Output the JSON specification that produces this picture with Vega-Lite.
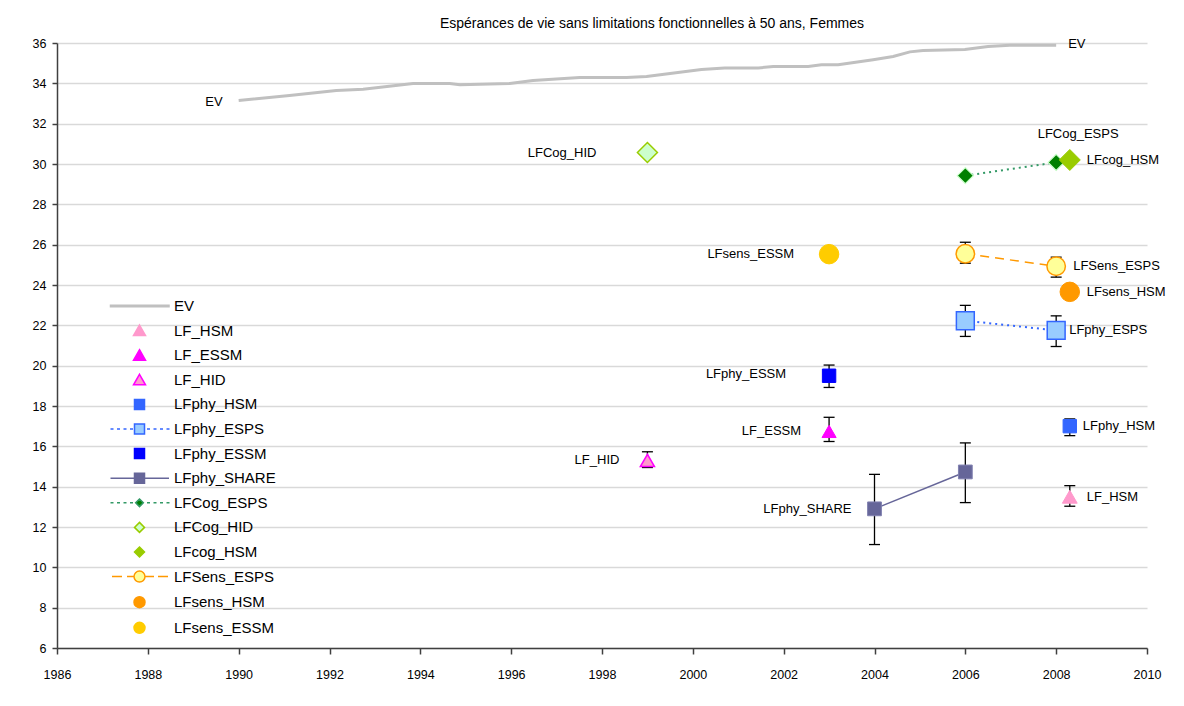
{
  "$schema": "https://vega.github.io/schema/vega-lite/v6.json",
  "width": 1090,
  "height": 605,
  "autosize": {"type": "none"},
  "padding": {"left": 57, "top": 43, "right": 37, "bottom": 58},
  "background": "white",
  "title": {"text": "Espérances de vie sans limitations fonctionnelles à 50 ans, Femmes", "font": "Liberation Sans", "fontSize": 14, "fontWeight": "normal", "color": "#000000", "dx": 50, "offset": 6},
  "config": {
    "font": "Liberation Sans",
    "view": {"stroke": null},
    "axis": {"domainColor": "#404040", "domainWidth": 1.5, "tickColor": "#404040", "tickWidth": 1.5, "labelFont": "Liberation Sans", "labelFontSize": 12.5, "labelColor": "#000000", "title": null, "labelFlush": false},
    "legend": {"symbolSize": 400, "symbolStrokeWidth": 1.5, "symbolFillColor": "#ffffff", "labelFont": "Liberation Sans", "labelFontSize": 15, "labelColor": "#000000", "labelOffset": 23.5, "rowPadding": 5.6, "padding": 0, "symbolOffset": 0, "labelLimit": 300}
  },
  "datasets": {
    "ev": [
      {"year": 1990, "value": 33.15},
      {"year": 1991.12, "value": 33.40},
      {"year": 1992.15, "value": 33.65},
      {"year": 1992.74, "value": 33.71},
      {"year": 1993.84, "value": 33.99},
      {"year": 1994.65, "value": 33.99},
      {"year": 1994.87, "value": 33.93},
      {"year": 1995.97, "value": 33.99},
      {"year": 1996.48, "value": 34.14},
      {"year": 1997.51, "value": 34.29},
      {"year": 1998.54, "value": 34.29},
      {"year": 1998.98, "value": 34.34},
      {"year": 2000.19, "value": 34.69},
      {"year": 2000.7, "value": 34.76},
      {"year": 2001.44, "value": 34.76},
      {"year": 2001.77, "value": 34.84},
      {"year": 2002.54, "value": 34.84},
      {"year": 2002.83, "value": 34.92},
      {"year": 2003.2, "value": 34.92},
      {"year": 2003.97, "value": 35.17},
      {"year": 2004.41, "value": 35.33},
      {"year": 2004.78, "value": 35.56},
      {"year": 2005.07, "value": 35.63},
      {"year": 2005.99, "value": 35.68},
      {"year": 2006.5, "value": 35.83},
      {"year": 2006.98, "value": 35.89},
      {"year": 2008, "value": 35.89}
    ],
    "pts": [
      {"series": "LF_HSM", "year": 2008.3, "value": 13.5, "lo": 13.03, "hi": 14.05},
      {"series": "LF_ESSM", "year": 2003, "value": 16.74, "lo": 16.24, "hi": 17.44},
      {"series": "LF_HID", "year": 1999, "value": 15.3, "lo": 14.95, "hi": 15.73},
      {"series": "LFphy_HSM", "year": 2008.3, "value": 17.0, "lo": 16.53, "hi": 17.36},
      {"series": "LFphy_ESPS", "year": 2006, "value": 22.23, "lo": 21.45, "hi": 22.99},
      {"series": "LFphy_ESPS", "year": 2008, "value": 21.75, "lo": 20.95, "hi": 22.47},
      {"series": "LFphy_ESSM", "year": 2003, "value": 19.5, "lo": 18.92, "hi": 20.03},
      {"series": "LFphy_SHARE", "year": 2004, "value": 12.9, "lo": 11.13, "hi": 14.61},
      {"series": "LFphy_SHARE", "year": 2006, "value": 14.73, "lo": 13.21, "hi": 16.17},
      {"series": "LFCog_ESPS", "year": 2006, "value": 29.42, "lo": null, "hi": null},
      {"series": "LFCog_ESPS", "year": 2008, "value": 30.08, "lo": null, "hi": null},
      {"series": "LFCog_HID", "year": 1999, "value": 30.57, "lo": null, "hi": null},
      {"series": "LFcog_HSM", "year": 2008.3, "value": 30.2, "lo": null, "hi": null},
      {"series": "LFSens_ESPS", "year": 2006, "value": 25.55, "lo": 25.08, "hi": 26.12},
      {"series": "LFSens_ESPS", "year": 2008, "value": 24.93, "lo": 24.39, "hi": 25.38},
      {"series": "LFsens_HSM", "year": 2008.3, "value": 23.66, "lo": null, "hi": null},
      {"series": "LFsens_ESSM", "year": 2003, "value": 25.53, "lo": 25.3, "hi": 25.75}
    ]
  },
  "layer": [
    {
      "data": {"name": "ev"},
      "mark": {"type": "line", "color": "#c0c0c0", "strokeWidth": 3},
      "encoding": {
        "x": {"field": "year", "type": "quantitative", "scale": {"domain": [1986, 2010], "nice": false, "zero": false},
              "axis": {"values": [1986, 1988, 1990, 1992, 1994, 1996, 1998, 2000, 2002, 2004, 2006, 2008, 2010], "format": "d", "grid": false, "tickSize": 6, "labelPadding": 14, "labelOverlap": false}},
        "y": {"field": "value", "type": "quantitative", "scale": {"domain": [6, 36], "nice": false, "zero": false},
              "axis": {"values": [6, 8, 10, 12, 14, 16, 18, 20, 22, 24, 26, 28, 30, 32, 34, 36], "grid": true, "gridColor": "#d9d9d9", "gridWidth": 1.5, "tickSize": 5, "labelPadding": 6, "labelOverlap": false}}
      }
    },
    {
      "data": {"name": "pts"},
      "transform": [{"filter": "datum.series === 'LFphy_ESPS'"}],
      "mark": {"type": "line", "color": "#3366ff", "strokeWidth": 2, "strokeDash": [2, 4]},
      "encoding": {"x": {"field": "year", "type": "quantitative"}, "y": {"field": "value", "type": "quantitative"}}
    },
    {
      "data": {"name": "pts"},
      "transform": [{"filter": "datum.series === 'LFCog_ESPS'"}],
      "mark": {"type": "line", "color": "#339966", "strokeWidth": 2, "strokeDash": [2, 4]},
      "encoding": {"x": {"field": "year", "type": "quantitative"}, "y": {"field": "value", "type": "quantitative"}}
    },
    {
      "data": {"name": "pts"},
      "transform": [{"filter": "datum.series === 'LFSens_ESPS'"}],
      "mark": {"type": "line", "color": "#ff9900", "strokeWidth": 1.5, "strokeDash": [9, 6]},
      "encoding": {"x": {"field": "year", "type": "quantitative"}, "y": {"field": "value", "type": "quantitative"}}
    },
    {
      "data": {"name": "pts"},
      "transform": [{"filter": "datum.series === 'LFphy_SHARE'"}],
      "mark": {"type": "line", "color": "#666699", "strokeWidth": 1.5},
      "encoding": {"x": {"field": "year", "type": "quantitative"}, "y": {"field": "value", "type": "quantitative"}}
    },
    {
      "data": {"name": "pts"},
      "transform": [{"filter": "datum.lo != null"}],
      "mark": {"type": "rule", "color": "#000000", "strokeWidth": 1.3},
      "encoding": {"x": {"field": "year", "type": "quantitative"}, "y": {"field": "lo", "type": "quantitative"}, "y2": {"field": "hi"}}
    },
    {
      "data": {"name": "pts"},
      "transform": [{"filter": "datum.lo != null"}],
      "mark": {"type": "tick", "orient": "horizontal", "color": "#000000", "size": 11, "thickness": 1.3, "opacity": 1},
      "encoding": {"x": {"field": "year", "type": "quantitative"}, "y": {"field": "lo", "type": "quantitative"}}
    },
    {
      "data": {"name": "pts"},
      "transform": [{"filter": "datum.lo != null"}],
      "mark": {"type": "tick", "orient": "horizontal", "color": "#000000", "size": 11, "thickness": 1.3, "opacity": 1},
      "encoding": {"x": {"field": "year", "type": "quantitative"}, "y": {"field": "hi", "type": "quantitative"}}
    },
    {
      "data": {"name": "pts"},
      "transform": [{"filter": "datum.series === 'LF_HSM'"}],
      "mark": {"type": "point", "shape": "triangle-up", "filled": true, "fill": "#ff99cc", "stroke": "#ff99cc", "strokeWidth": 1, "size": 220, "opacity": 1},
      "encoding": {"x": {"field": "year", "type": "quantitative"}, "y": {"field": "value", "type": "quantitative"}}
    },
    {
      "data": {"name": "pts"},
      "transform": [{"filter": "datum.series === 'LF_ESSM'"}],
      "mark": {"type": "point", "shape": "triangle-up", "filled": true, "fill": "#ff00ff", "stroke": "#ff00ff", "strokeWidth": 1, "size": 200, "opacity": 1},
      "encoding": {"x": {"field": "year", "type": "quantitative"}, "y": {"field": "value", "type": "quantitative"}}
    },
    {
      "data": {"name": "pts"},
      "transform": [{"filter": "datum.series === 'LF_HID'"}],
      "mark": {"type": "point", "shape": "triangle-up", "filled": true, "fill": "#ff99cc", "stroke": "#ff00ff", "strokeWidth": 1.5, "size": 200, "opacity": 1},
      "encoding": {"x": {"field": "year", "type": "quantitative"}, "y": {"field": "value", "type": "quantitative"}}
    },
    {
      "data": {"name": "pts"},
      "transform": [{"filter": "datum.series === 'LFphy_HSM'"}],
      "mark": {"type": "point", "shape": "square", "filled": true, "fill": "#3366ff", "stroke": "#3366ff", "strokeWidth": 1, "size": 180, "opacity": 1},
      "encoding": {"x": {"field": "year", "type": "quantitative"}, "y": {"field": "value", "type": "quantitative"}}
    },
    {
      "data": {"name": "pts"},
      "transform": [{"filter": "datum.series === 'LFphy_ESPS'"}],
      "mark": {"type": "point", "shape": "square", "filled": true, "fill": "#99ccff", "stroke": "#3366ff", "strokeWidth": 1.5, "size": 320, "opacity": 1},
      "encoding": {"x": {"field": "year", "type": "quantitative"}, "y": {"field": "value", "type": "quantitative"}}
    },
    {
      "data": {"name": "pts"},
      "transform": [{"filter": "datum.series === 'LFphy_ESSM'"}],
      "mark": {"type": "point", "shape": "square", "filled": true, "fill": "#0000ff", "stroke": "#0000ff", "strokeWidth": 1, "size": 180, "opacity": 1},
      "encoding": {"x": {"field": "year", "type": "quantitative"}, "y": {"field": "value", "type": "quantitative"}}
    },
    {
      "data": {"name": "pts"},
      "transform": [{"filter": "datum.series === 'LFphy_SHARE'"}],
      "mark": {"type": "point", "shape": "square", "filled": true, "fill": "#666699", "stroke": "#8080b0", "strokeWidth": 1, "size": 190, "opacity": 1},
      "encoding": {"x": {"field": "year", "type": "quantitative"}, "y": {"field": "value", "type": "quantitative"}}
    },
    {
      "data": {"name": "pts"},
      "transform": [{"filter": "datum.series === 'LFCog_ESPS'"}],
      "mark": {"type": "point", "shape": "diamond", "filled": true, "fill": "#008000", "stroke": "#ccffcc", "strokeWidth": 1.2, "size": 260, "opacity": 1},
      "encoding": {"x": {"field": "year", "type": "quantitative"}, "y": {"field": "value", "type": "quantitative"}}
    },
    {
      "data": {"name": "pts"},
      "transform": [{"filter": "datum.series === 'LFCog_HID'"}],
      "mark": {"type": "point", "shape": "diamond", "filled": true, "fill": "#ccffcc", "stroke": "#99cc00", "strokeWidth": 1.5, "size": 400, "opacity": 1},
      "encoding": {"x": {"field": "year", "type": "quantitative"}, "y": {"field": "value", "type": "quantitative"}}
    },
    {
      "data": {"name": "pts"},
      "transform": [{"filter": "datum.series === 'LFcog_HSM'"}],
      "mark": {"type": "point", "shape": "diamond", "filled": true, "fill": "#99cc00", "stroke": "#99cc00", "strokeWidth": 1, "size": 440, "opacity": 1},
      "encoding": {"x": {"field": "year", "type": "quantitative"}, "y": {"field": "value", "type": "quantitative"}}
    },
    {
      "data": {"name": "pts"},
      "transform": [{"filter": "datum.series === 'LFSens_ESPS'"}],
      "mark": {"type": "point", "shape": "circle", "filled": true, "fill": "#ffff99", "stroke": "#ff9900", "strokeWidth": 1.5, "size": 340, "opacity": 1},
      "encoding": {"x": {"field": "year", "type": "quantitative"}, "y": {"field": "value", "type": "quantitative"}}
    },
    {
      "data": {"name": "pts"},
      "transform": [{"filter": "datum.series === 'LFsens_HSM'"}],
      "mark": {"type": "point", "shape": "circle", "filled": true, "fill": "#ff9900", "stroke": "#ff9900", "strokeWidth": 1, "size": 380, "opacity": 1},
      "encoding": {"x": {"field": "year", "type": "quantitative"}, "y": {"field": "value", "type": "quantitative"}}
    },
    {
      "data": {"name": "pts"},
      "transform": [{"filter": "datum.series === 'LFsens_ESSM'"}],
      "mark": {"type": "point", "shape": "circle", "filled": true, "fill": "#ffcc00", "stroke": "#ffcc00", "strokeWidth": 1, "size": 380, "opacity": 1},
      "encoding": {"x": {"field": "year", "type": "quantitative"}, "y": {"field": "value", "type": "quantitative"}}
    },
    {
      "data": {"name": "ev"},
      "transform": [{"filter": "datum.year === 1990"}],
      "mark": {"type": "text", "font": "Liberation Sans", "fontSize": 13, "color": "#000000", "baseline": "middle", "align": "right", "dx": -16, "dy": 2},
      "encoding": {"x": {"field": "year", "type": "quantitative"}, "y": {"field": "value", "type": "quantitative"}, "text": {"value": "EV"}}
    },
    {
      "data": {"name": "ev"},
      "transform": [{"filter": "datum.year === 2008"}],
      "mark": {"type": "text", "font": "Liberation Sans", "fontSize": 13, "color": "#000000", "baseline": "middle", "align": "left", "dx": 12, "dy": -1},
      "encoding": {"x": {"field": "year", "type": "quantitative"}, "y": {"field": "value", "type": "quantitative"}, "text": {"value": "EV"}}
    },
    {
      "data": {"name": "pts"},
      "transform": [{"filter": "(datum.series === 'LFphy_ESPS' && datum.year === 2008) || datum.series === 'LFphy_HSM'"}],
      "mark": {"type": "text", "font": "Liberation Sans", "fontSize": 13, "color": "#000000", "baseline": "middle", "align": "left", "dx": 13},
      "encoding": {"x": {"field": "year", "type": "quantitative"}, "y": {"field": "value", "type": "quantitative"}, "text": {"field": "series"}}
    },
    {
      "data": {"name": "pts"},
      "transform": [{"filter": "(datum.series === 'LFSens_ESPS' && datum.year === 2008) || datum.series === 'LFcog_HSM' || datum.series === 'LFsens_HSM' || datum.series === 'LF_HSM'"}],
      "mark": {"type": "text", "font": "Liberation Sans", "fontSize": 13, "color": "#000000", "baseline": "middle", "align": "left", "dx": 17},
      "encoding": {"x": {"field": "year", "type": "quantitative"}, "y": {"field": "value", "type": "quantitative"}, "text": {"field": "series"}}
    },
    {
      "data": {"name": "pts"},
      "transform": [{"filter": "datum.series === 'LFCog_HID'"}],
      "mark": {"type": "text", "font": "Liberation Sans", "fontSize": 13, "color": "#000000", "baseline": "middle", "align": "right", "dx": -51},
      "encoding": {"x": {"field": "year", "type": "quantitative"}, "y": {"field": "value", "type": "quantitative"}, "text": {"field": "series"}}
    },
    {
      "data": {"name": "pts"},
      "transform": [{"filter": "datum.series === 'LFsens_ESSM'"}],
      "mark": {"type": "text", "font": "Liberation Sans", "fontSize": 13, "color": "#000000", "baseline": "middle", "align": "right", "dx": -35},
      "encoding": {"x": {"field": "year", "type": "quantitative"}, "y": {"field": "value", "type": "quantitative"}, "text": {"field": "series"}}
    },
    {
      "data": {"name": "pts"},
      "transform": [{"filter": "datum.series === 'LFphy_ESSM'"}],
      "mark": {"type": "text", "font": "Liberation Sans", "fontSize": 13, "color": "#000000", "baseline": "middle", "align": "right", "dx": -43, "dy": -2},
      "encoding": {"x": {"field": "year", "type": "quantitative"}, "y": {"field": "value", "type": "quantitative"}, "text": {"field": "series"}}
    },
    {
      "data": {"name": "pts"},
      "transform": [{"filter": "datum.series === 'LF_ESSM' || datum.series === 'LF_HID'"}],
      "mark": {"type": "text", "font": "Liberation Sans", "fontSize": 13, "color": "#000000", "baseline": "middle", "align": "right", "dx": -28},
      "encoding": {"x": {"field": "year", "type": "quantitative"}, "y": {"field": "value", "type": "quantitative"}, "text": {"field": "series"}}
    },
    {
      "data": {"name": "pts"},
      "transform": [{"filter": "datum.series === 'LFphy_SHARE' && datum.year === 2004"}],
      "mark": {"type": "text", "font": "Liberation Sans", "fontSize": 13, "color": "#000000", "baseline": "middle", "align": "right", "dx": -23},
      "encoding": {"x": {"field": "year", "type": "quantitative"}, "y": {"field": "value", "type": "quantitative"}, "text": {"field": "series"}}
    },
    {
      "data": {"name": "pts"},
      "transform": [{"filter": "datum.series === 'LFCog_ESPS' && datum.year === 2008"}],
      "mark": {"type": "text", "font": "Liberation Sans", "fontSize": 13, "color": "#000000", "baseline": "middle", "align": "center", "dx": 22, "dy": -28},
      "encoding": {"x": {"field": "year", "type": "quantitative"}, "y": {"field": "value", "type": "quantitative"}, "text": {"field": "series"}}
    },
    {
      "data": {"name": "pts"},
      "transform": [{"filter": "datum.year < 0"}],
      "mark": {"type": "point", "opacity": 1, "filled": true},
      "encoding": {
        "x": {"field": "year", "type": "quantitative"},
        "y": {"field": "value", "type": "quantitative"},
        "fill": {"field": "series", "type": "nominal",
          "scale": {"domain": ["EV", "LF_HSM", "LF_ESSM", "LF_HID", "LFphy_HSM", "LFphy_ESPS", "LFphy_ESSM", "LFphy_SHARE", "LFCog_ESPS", "LFCog_HID", "LFcog_HSM", "LFSens_ESPS", "LFsens_HSM", "LFsens_ESSM"],
                    "range": ["#c0c0c0", "#ff99cc", "#ff00ff", "#ff99cc", "#3366ff", "#99ccff", "#0000ff", "#666699", "#008000", "#ccffcc", "#99cc00", "#ffff99", "#ff9900", "#ffcc00"]},
          "legend": {"title": null, "orient": "none", "legendX": 71.5, "legendY": 252}},
        "stroke": {"field": "series", "type": "nominal",
          "scale": {"domain": ["EV", "LF_HSM", "LF_ESSM", "LF_HID", "LFphy_HSM", "LFphy_ESPS", "LFphy_ESSM", "LFphy_SHARE", "LFCog_ESPS", "LFCog_HID", "LFcog_HSM", "LFSens_ESPS", "LFsens_HSM", "LFsens_ESSM"],
                    "range": ["#c0c0c0", "#ff99cc", "#ff00ff", "#ff00ff", "#3366ff", "#3366ff", "#0000ff", "#666699", "#339966", "#99cc00", "#99cc00", "#ff9900", "#ff9900", "#ffcc00"]},
          "legend": {"title": null, "orient": "none", "legendX": 71.5, "legendY": 252}},
        "shape": {"field": "series", "type": "nominal",
          "scale": {"domain": ["EV", "LF_HSM", "LF_ESSM", "LF_HID", "LFphy_HSM", "LFphy_ESPS", "LFphy_ESSM", "LFphy_SHARE", "LFCog_ESPS", "LFCog_HID", "LFcog_HSM", "LFSens_ESPS", "LFsens_HSM", "LFsens_ESSM"],
                    "range": [
                      "M-2.9,-0.08H2.95V0.08H-2.9Z",
                      "M0,-0.55L0.6,0.5L-0.6,0.5Z",
                      "M0,-0.55L0.6,0.5L-0.6,0.5Z",
                      "M0,-0.55L0.6,0.5L-0.6,0.5Z",
                      "M-0.5,-0.5H0.5V0.5H-0.5Z",
                      "M-2.9,0H-2.6M-2.25,0H-1.95M-1.6,0H-1.3M-0.95,0H-0.65M-0.5,-0.5H0.5V0.5H-0.5ZM0.75,0H1.05M1.4,0H1.7M2.05,0H2.35M2.7,0H3",
                      "M-0.5,-0.5H0.5V0.5H-0.5Z",
                      "M-2.9,0H2.95M-0.5,-0.5H0.5V0.5H-0.5Z",
                      "M-2.9,0H-2.6M-2.25,0H-1.95M-1.6,0H-1.3M-0.95,0H-0.65M0,-0.38L0.38,0L0,0.38L-0.38,0ZM0.75,0H1.05M1.4,0H1.7M2.05,0H2.35M2.7,0H3",
                      "M0,-0.5L0.5,0L0,0.5L-0.5,0Z",
                      "M0,-0.5L0.5,0L0,0.5L-0.5,0Z",
                      "M-2.75,0H-1.75M-1.25,0H-0.55M0.55,0H1.45M1.85,0H2.85M-0.55,0A0.55,0.55,0,1,0,0.55,0A0.55,0.55,0,1,0,-0.55,0Z",
                      "M-0.55,0A0.55,0.55,0,1,0,0.55,0A0.55,0.55,0,1,0,-0.55,0Z",
                      "M-0.55,0A0.55,0.55,0,1,0,0.55,0A0.55,0.55,0,1,0,-0.55,0Z"
                    ]},
          "legend": {"title": null, "orient": "none", "legendX": 71.5, "legendY": 252}}
      }
    }
  ]
}
